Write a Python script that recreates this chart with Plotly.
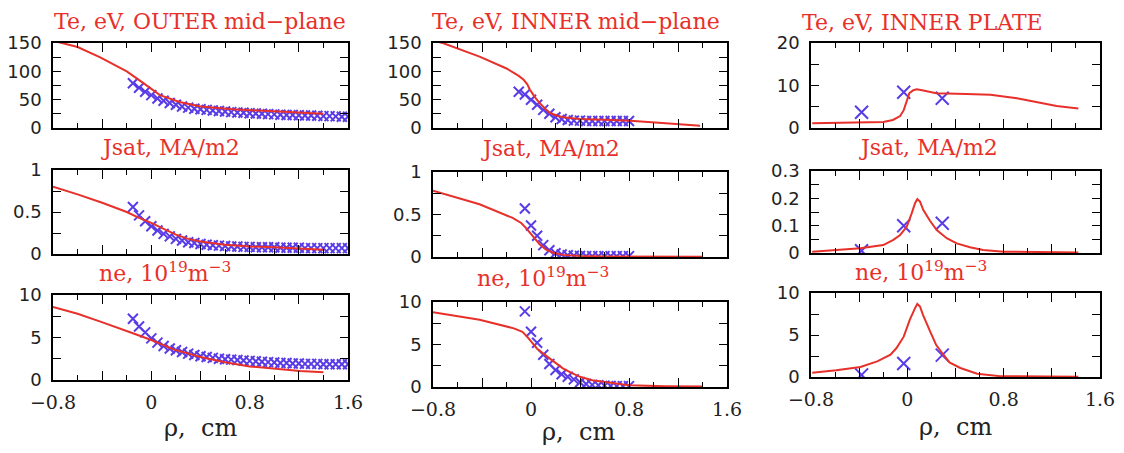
import plotly.graph_objects as go
from plotly.subplots import make_subplots

RED = "#e8302a"
BLUE = "#5a3ce6"

# ---------------- data ----------------
# OUTER mid-plane
te_out_line_x = [-0.8, -0.72, -0.6, -0.42, -0.2, -0.07, 0.07, 0.23, 0.4, 0.66, 0.94, 1.21, 1.4]
te_out_line_y = [154, 150, 143, 125, 100, 80, 58, 46, 38, 33, 30, 27, 25]
out_pts_x = [-0.15, -0.10, -0.05, 0.00, 0.05, 0.10, 0.15, 0.20, 0.25, 0.30, 0.35, 0.40,
             0.45, 0.50, 0.55, 0.60, 0.65, 0.70, 0.75, 0.80, 0.85, 0.90, 0.95, 1.00,
             1.05, 1.10, 1.15, 1.20, 1.25, 1.30, 1.35, 1.40, 1.45, 1.50, 1.55, 1.60]
te_out_pts_y = [79, 71, 64, 58, 52, 48, 44, 41, 38, 36, 34, 33, 32, 31, 30, 29, 28, 27.5,
                27, 26, 25.5, 25, 24.5, 24, 23.5, 23, 23, 22.5, 22, 22, 21.5, 21, 21, 20.5, 20, 20]
js_out_line_x = [-0.8, -0.6, -0.4, -0.2, -0.1, 0.0, 0.1, 0.2, 0.3, 0.4, 0.6, 0.8, 1.0, 1.2, 1.4]
js_out_line_y = [0.80, 0.71, 0.61, 0.50, 0.43, 0.37, 0.30, 0.23, 0.18, 0.15, 0.11, 0.09, 0.08, 0.065, 0.05]
js_out_pts_y = [0.56, 0.46, 0.39, 0.33, 0.28, 0.24, 0.21, 0.18, 0.16, 0.14, 0.13, 0.12,
                0.11, 0.105, 0.10, 0.095, 0.09, 0.09, 0.085, 0.085, 0.08, 0.08, 0.08, 0.08,
                0.075, 0.075, 0.075, 0.075, 0.07, 0.07, 0.07, 0.07, 0.07, 0.07, 0.07, 0.07]
ne_out_line_x = [-0.8, -0.6, -0.42, -0.3, -0.15, 0.0, 0.18, 0.4, 0.6, 0.8, 1.0, 1.21, 1.4]
ne_out_line_y = [8.6, 7.8, 6.9, 6.3, 5.5, 4.7, 3.6, 2.7, 2.1, 1.6, 1.3, 1.06, 0.9]
ne_out_pts_y = [7.2, 6.3, 5.6, 4.9, 4.4, 4.0, 3.7, 3.5, 3.3, 3.1, 2.95, 2.8, 2.7, 2.6, 2.5,
                2.45, 2.4, 2.35, 2.3, 2.25, 2.2, 2.15, 2.1, 2.05, 2.0, 2.0, 1.95, 1.95, 1.9,
                1.9, 1.9, 1.85, 1.85, 1.85, 1.85, 1.85]

# INNER mid-plane
te_in_line_x = [-0.8, -0.72, -0.42, -0.2, -0.1, -0.06, -0.03, -0.01, 0.03, 0.07, 0.12, 0.16,
                0.21, 0.26, 0.32, 0.4, 0.6, 0.81, 1.1, 1.38]
te_in_line_y = [154, 150, 126, 105, 92, 85, 77, 68, 55, 44, 33, 26, 22, 19, 17.5, 16, 14.5, 13, 8.5, 4]
te_in_pts_x = [-0.10, -0.05, 0.00, 0.05, 0.10, 0.15, 0.20, 0.25, 0.30, 0.35, 0.40, 0.45,
               0.50, 0.55, 0.60, 0.65, 0.70, 0.75, 0.80]
te_in_pts_y = [64, 59, 50, 41, 32, 25, 19, 16, 14, 13, 13, 12.5, 12.5, 12.5, 12.5, 12.5, 12.5, 12.5, 12.5]
in_pts_x = [-0.05, 0.00, 0.05, 0.10, 0.15, 0.20, 0.25, 0.30, 0.35, 0.40, 0.45, 0.50,
            0.55, 0.60, 0.65, 0.70, 0.75, 0.80]
js_in_line_x = [-0.8, -0.42, -0.15, -0.08, -0.04, 0.0, 0.04, 0.07, 0.12, 0.18, 0.26, 0.4, 0.6, 1.0, 1.4]
js_in_line_y = [0.78, 0.62, 0.46, 0.40, 0.34, 0.27, 0.20, 0.15, 0.09, 0.05, 0.025, 0.012, 0.006, 0.004, 0.004]
js_in_pts_y = [0.57, 0.37, 0.25, 0.14, 0.08, 0.045, 0.03, 0.02, 0.015, 0.012, 0.01, 0.01,
               0.01, 0.01, 0.01, 0.01, 0.01, 0.01]
ne_in_line_x = [-0.8, -0.42, -0.14, -0.07, -0.03, 0.01, 0.05, 0.13, 0.2, 0.26, 0.33, 0.4,
                0.5, 0.67, 0.8, 1.1, 1.4]
ne_in_line_y = [8.8, 7.9, 6.9, 6.5, 5.9, 5.2, 4.5, 3.6, 2.85, 2.2, 1.65, 1.2, 0.8, 0.43, 0.2, 0.08, 0.05]
ne_in_pts_y = [8.9, 6.5, 5.2, 3.8, 2.7, 2.0, 1.5, 1.2, 0.9, 0.55, 0.35, 0.25, 0.2, 0.15,
               0.12, 0.1, 0.1, 0.1]

# INNER PLATE
te_pl_line_x = [-0.79, -0.2, -0.12, -0.06, -0.03, -0.005, 0.017, 0.05, 0.078, 0.133, 0.24,
                0.49, 0.69, 0.91, 1.07, 1.24, 1.42]
te_pl_line_y = [1.1, 1.4, 1.9, 2.8, 4.2, 6.6, 8.2, 8.9, 9.1, 8.8, 8.2, 8.0, 7.8, 7.0, 6.2, 5.2, 4.6]
pl_pts_x = [-0.38, -0.03, 0.29]
te_pl_pts_y = [3.7, 8.4, 7.0]
js_pl_line_x = [-0.79, -0.39, -0.2, -0.116, -0.06, -0.005, 0.036, 0.064, 0.083, 0.105, 0.133,
                0.188, 0.244, 0.327, 0.41, 0.52, 0.63, 0.8, 1.42]
js_pl_line_y = [0.005, 0.017, 0.029, 0.048, 0.066, 0.096, 0.145, 0.182, 0.197, 0.188, 0.157,
                0.118, 0.084, 0.054, 0.035, 0.021, 0.011, 0.005, 0.002]
js_pl_pts_y = [0.008, 0.10, 0.109]
ne_pl_line_x = [-0.79, -0.59, -0.39, -0.25, -0.14, -0.09, -0.03, 0.02, 0.064, 0.083, 0.105,
                0.13, 0.19, 0.24, 0.30, 0.35, 0.44, 0.58, 0.77, 1.42]
ne_pl_line_y = [0.5, 0.8, 1.2, 1.86, 2.65, 3.45, 4.8, 6.8, 8.2, 8.7, 8.4, 7.4, 5.4, 3.8,
                2.65, 1.74, 1.07, 0.39, 0.1, 0.03]
ne_pl_pts_y = [0.25, 1.6, 2.6]

# tick labels
x_tickvals = [-0.8, -0.4, 0, 0.4, 0.8, 1.2, 1.6]
x_ticktext = ["\u22120.8", "", "0", "", "0.8", "", "1.6"]
x_minor = [-0.6, -0.2, 0.2, 0.6, 1.0, 1.4]

titles = {
    (1, 1): "Te, eV, OUTER mid\u2212plane", (1, 2): "Te, eV, INNER mid\u2212plane", (1, 3): "Te, eV, INNER PLATE",
    (2, 1): "Jsat, MA/m2", (2, 2): "Jsat, MA/m2", (2, 3): "Jsat, MA/m2",
    (3, 1): "ne, 10<sup>19</sup>m<sup>\u22123</sup>", (3, 2): "ne, 10<sup>19</sup>m<sup>\u22123</sup>",
    (3, 3): "ne, 10<sup>19</sup>m<sup>\u22123</sup>",
}

panels = {
    (1, 1): (te_out_line_x, te_out_line_y, out_pts_x, te_out_pts_y),
    (2, 1): (js_out_line_x, js_out_line_y, out_pts_x, js_out_pts_y),
    (3, 1): (ne_out_line_x, ne_out_line_y, out_pts_x, ne_out_pts_y),
    (1, 2): (te_in_line_x, te_in_line_y, te_in_pts_x, te_in_pts_y),
    (2, 2): (js_in_line_x, js_in_line_y, in_pts_x, js_in_pts_y),
    (3, 2): (ne_in_line_x, ne_in_line_y, in_pts_x, ne_in_pts_y),
    (1, 3): (te_pl_line_x, te_pl_line_y, pl_pts_x, te_pl_pts_y),
    (2, 3): (js_pl_line_x, js_pl_line_y, pl_pts_x, js_pl_pts_y),
    (3, 3): (ne_pl_line_x, ne_pl_line_y, pl_pts_x, ne_pl_pts_y),
}

yaxes_spec = {
    (1, 1): ([0, 150], [0, 50, 100, 150], [25, 75, 125]),
    (1, 2): ([0, 150], [0, 50, 100, 150], [25, 75, 125]),
    (1, 3): ([0, 20], [0, 10, 20], [5, 15]),
    (2, 1): ([0, 1], [0, 0.5, 1], [0.25, 0.75]),
    (2, 2): ([0, 1], [0, 0.5, 1], [0.25, 0.75]),
    (2, 3): ([0, 0.3], [0, 0.1, 0.2, 0.3], [0.05, 0.15, 0.25]),
    (3, 1): ([0, 10], [0, 5, 10], [2.5, 7.5]),
    (3, 2): ([0, 10], [0, 5, 10], [2.5, 7.5]),
    (3, 3): ([0, 10], [0, 5, 10], [2.5, 7.5]),
}

# ---------------- layout geometry (page pixels; page body has an 8px margin) ----------------
OFF = 8
W, H = 1124 - 2 * OFF, 453 - 2 * OFF
col_px = {1: (53, 348), 2: (433, 727), 3: (811, 1100)}
row_px = {
    (1, 1): (43, 128), (2, 1): (170, 254), (3, 1): (295, 380),
    (1, 2): (43, 128), (2, 2): (172, 257), (3, 2): (302, 387),
    (1, 3): (43, 128), (2, 3): (171, 253), (3, 3): (293, 377),
}
title_pos = {
    (1, 1): (200, 21), (2, 1): (170, 147), (3, 1): (165, 272),
    (1, 2): (576, 21), (2, 2): (550, 149), (3, 2): (543, 277),
    (1, 3): (922, 22), (2, 3): (928, 147), (3, 3): (921, 271),
}
xlabel_pos = {1: (200, 428), 2: (578, 432), 3: (955, 427)}


def fx(px):
    return (px - OFF) / W


def fy(py):
    return 1 - (py - OFF) / H


fig = make_subplots(rows=3, cols=3)

for (r, c), (lx, ly, px, py) in panels.items():
    msize = 13 if c == 3 else 10
    fig.add_trace(go.Scatter(x=px, y=py, mode="markers",
                             marker=dict(symbol="x-thin", size=msize, color=BLUE,
                                         line=dict(width=2, color=BLUE)),
                             showlegend=False), row=r, col=c)
    fig.add_trace(go.Scatter(x=lx, y=ly, mode="lines", line=dict(color=RED, width=2),
                             showlegend=False), row=r, col=c)

for (r, c) in panels:
    idx = (r - 1) * 3 + c
    xa = "xaxis" if idx == 1 else f"xaxis{idx}"
    ya = "yaxis" if idx == 1 else f"yaxis{idx}"
    x0, x1 = col_px[c]
    t, b = row_px[(r, c)]
    yr, yt, ym = yaxes_spec[(r, c)]
    fig.layout[xa].update(
        domain=[fx(x0), fx(x1)], range=[-0.8, 1.6], tickmode="array",
        tickvals=x_tickvals, ticktext=x_ticktext, showticklabels=(r == 3),
        ticks="inside", ticklen=9, tickwidth=1.3, tickcolor="black",
        minor=dict(tickvals=x_minor, ticks="inside", ticklen=5, tickwidth=1.3, tickcolor="black"),
        showline=True, linecolor="black", linewidth=1.5, mirror="ticks",
        showgrid=False, zeroline=False, automargin=False,
        ticklabelstandoff=4,
        tickfont=dict(family="DejaVu Serif", size=19, color="#222"),
    )
    fig.layout[ya].update(
        domain=[fy(b), fy(t)], range=yr, tickmode="array", tickvals=yt,
        ticks="inside", ticklen=8, tickwidth=1.3, tickcolor="black",
        minor=dict(tickvals=ym, ticks="inside", ticklen=8, tickwidth=1.3, tickcolor="black"),
        showline=True, linecolor="black", linewidth=1.5, mirror="ticks",
        showgrid=False, zeroline=False, automargin=False,
        ticklabelstandoff=6,
        tickfont=dict(family="DejaVu Sans", size=18, color="#222"),
    )
    tx, ty = title_pos[(r, c)]
    fig.add_annotation(text=titles[(r, c)], x=fx(tx), y=fy(ty), xref="paper", yref="paper",
                       xanchor="center", yanchor="middle", showarrow=False,
                       font=dict(family="DejaVu Serif", size=22, color=RED))

for c, (lx, ly) in xlabel_pos.items():
    fig.add_annotation(text="\u03c1,  cm", x=fx(lx), y=fy(ly), xref="paper", yref="paper",
                       xanchor="center", yanchor="middle", showarrow=False,
                       font=dict(family="DejaVu Serif", size=24, color="#222"))

fig.update_layout(width=W, height=H, margin=dict(l=0, r=0, t=0, b=0, autoexpand=False),
                  paper_bgcolor="white", plot_bgcolor="white")

fig.write_html("out.html")
